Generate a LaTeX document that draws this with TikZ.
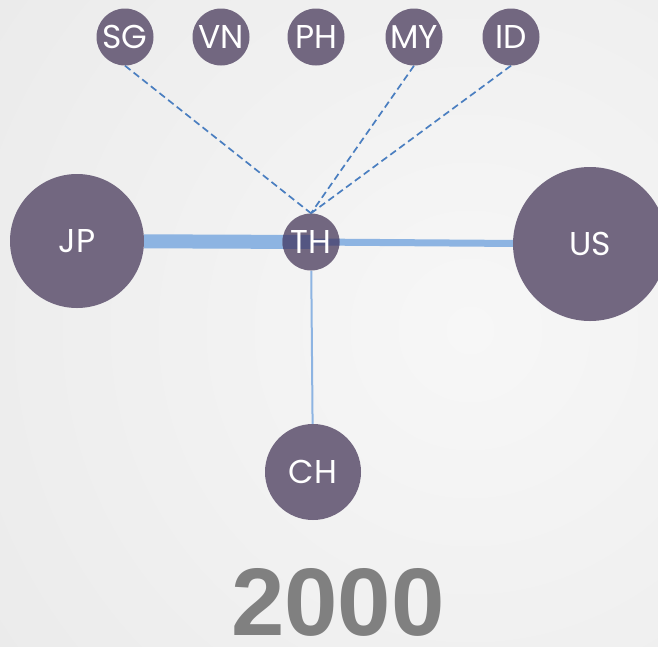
\documentclass[tikz,border=0pt]{standalone}
\usepackage{fontspec}
\setmainfont{Poppins}
\newfontfamily\yearfont{Liberation Sans}
\usetikzlibrary{calc}
\pgfdeclarelayer{bg}
\pgfdeclarelayer{links}
\pgfsetlayers{bg,links,main}
\definecolor{nodepurple}{RGB}{114,103,128}
\definecolor{linkblue}{RGB}{141,180,226}
\definecolor{bandnavy}{RGB}{84,86,130}
\definecolor{dashblue}{RGB}{74,126,192}
\definecolor{yeargray}{RGB}{128,128,128}
\definecolor{bginner}{RGB}{247,247,247}
\definecolor{bgouter}{RGB}{222,222,222}
\tikzset{
  country/.style={
    circle,
    fill=nodepurple,
    text=white,
    inner sep=0pt,
    font=\fontsize{33}{33}\selectfont
  },
  small/.style={country, minimum size=57pt},
  link/.style={linkblue, line cap=butt},
  weak/.style={
    dashblue,
    line width=1.7pt,
    dash pattern=on 7pt off 4pt
  }
}

\begin{document}
\begin{tikzpicture}[x=1pt,y=-1pt]
  \useasboundingbox (0,0) rectangle (658,646);
  \begin{pgfonlayer}{bg}
    \clip (0,0) rectangle (658,646);
    \shade[inner color=bginner, outer color=bgouter] (470,330) circle (1200pt);
  \end{pgfonlayer}

  % partners on top row
  \foreach \name/\x in {SG/125,VN/221,PH/316,MY/414,ID/511} {
    \node[small] (\name) at (\x,37) {\name};
  }
  \node[small, fill=none] (TH) at (311,242) {TH};
  \node[country, minimum size=134pt] (JP) at (77,241) {JP};
  \node[country, minimum size=154pt] (US) at (590,244) {US};
  \node[country, minimum size=96pt] (CH) at (313,472) {CH};

  \begin{pgfonlayer}{links}
    \draw[link, line width=14pt] (JP) -- (TH.center);
    \draw[link, line width=7pt] (TH.center) -- (US);
    \draw[link, line width=2pt] (TH) -- (CH);
    \draw[weak] (SG.south) -- (TH.north);
    \draw[weak] (MY.south) -- (TH.north);
    \draw[weak] (ID.south) -- (TH.north);
    % TH disc, with the links showing through it
    \fill[nodepurple] (TH.center) circle (28.5pt);
    \begin{scope}
      \clip (TH.center) circle (28.5pt);
      \draw[bandnavy, line width=14pt] (JP) -- (TH.center);
      \draw[bandnavy, line width=7pt] (TH.center) -- (US);
    \end{scope}
  \end{pgfonlayer}

  \node[inner sep=0pt, font=\yearfont\bfseries\fontsize{96}{96}\selectfont, text=yeargray] (year) at (338,602) {2000};
\end{tikzpicture}
\end{document}
